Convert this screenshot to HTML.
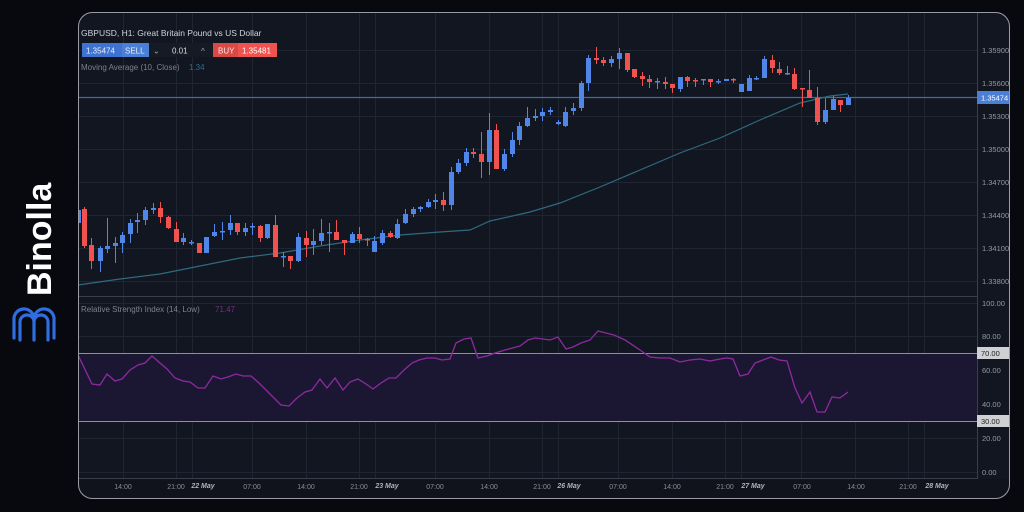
<!DOCTYPE html>
<html><head><meta charset="utf-8"><style>
body{margin:0;width:1024px;height:512px;background:#07090e;overflow:hidden;font-family:"Liberation Sans",sans-serif}
</style></head><body>
<svg width="1024" height="512" xmlns="http://www.w3.org/2000/svg" style="position:absolute;left:0;top:0" font-family="Liberation Sans, sans-serif">
<defs><clipPath id="cp"><rect x="78" y="12" width="932" height="487" rx="14"/></clipPath></defs>
<g clip-path="url(#cp)">
<rect x="78" y="12" width="932" height="487" fill="#121620"/>
<rect x="78" y="479" width="932" height="20" fill="#10131b"/>
<!-- grid -->
<g stroke="#1f2532" stroke-width="1">
<line x1="78" x2="977" y1="50.5" y2="50.5"/><line x1="78" x2="977" y1="83.5" y2="83.5"/><line x1="78" x2="977" y1="116.5" y2="116.5"/><line x1="78" x2="977" y1="149.5" y2="149.5"/><line x1="78" x2="977" y1="182.5" y2="182.5"/><line x1="78" x2="977" y1="215.5" y2="215.5"/><line x1="78" x2="977" y1="248.5" y2="248.5"/><line x1="78" x2="977" y1="281.5" y2="281.5"/>
<line x1="78" x2="977" y1="303.5" y2="303.5"/><line x1="78" x2="977" y1="336.5" y2="336.5"/><line x1="78" x2="977" y1="370.5" y2="370.5"/><line x1="78" x2="977" y1="404.5" y2="404.5"/><line x1="78" x2="977" y1="438.5" y2="438.5"/><line x1="78" x2="977" y1="472.5" y2="472.5"/>
<line y1="12" y2="479" x1="123.5" x2="123.5"/><line y1="12" y2="479" x1="176.5" x2="176.5"/><line y1="12" y2="479" x1="192.5" x2="192.5"/><line y1="12" y2="479" x1="252.5" x2="252.5"/><line y1="12" y2="479" x1="306.5" x2="306.5"/><line y1="12" y2="479" x1="359.5" x2="359.5"/><line y1="12" y2="479" x1="375.5" x2="375.5"/><line y1="12" y2="479" x1="435.5" x2="435.5"/><line y1="12" y2="479" x1="489.5" x2="489.5"/><line y1="12" y2="479" x1="542.5" x2="542.5"/><line y1="12" y2="479" x1="558.5" x2="558.5"/><line y1="12" y2="479" x1="618.5" x2="618.5"/><line y1="12" y2="479" x1="672.5" x2="672.5"/><line y1="12" y2="479" x1="725.5" x2="725.5"/><line y1="12" y2="479" x1="741.5" x2="741.5"/><line y1="12" y2="479" x1="801.5" x2="801.5"/><line y1="12" y2="479" x1="855.5" x2="855.5"/><line y1="12" y2="479" x1="908.5" x2="908.5"/><line y1="12" y2="479" x1="924.5" x2="924.5"/>
</g>
<!-- RSI band -->
<rect x="78" y="353" width="899" height="68" fill="#1b1733"/>
<line x1="78" x2="977" y1="353.5" y2="353.5" stroke="#8d8f9c"/>
<line x1="78" x2="977" y1="421.5" y2="421.5" stroke="#8d8f9c"/>
<line x1="78" x2="977" y1="296.5" y2="296.5" stroke="#3a3f4c"/>
<line x1="78" x2="977" y1="478.5" y2="478.5" stroke="#3a3f4c"/>
<line x1="977.5" x2="977.5" y1="12" y2="479" stroke="#3a3f4c"/>
<!-- current price line -->
<line x1="78" x2="977" y1="97.5" y2="97.5" stroke="#3d6aa8" stroke-width="1.3"/>
<!-- MA -->
<polyline fill="none" stroke="#2f6a80" stroke-width="1.2" points="78,285 120,279 160,274 200,266 240,258 280,253 320,246 360,240 400,235 440,232 470,230 490,221 530,212 560,203 600,187 640,170 680,153 720,138 760,120 800,103 830,96 848,94"/>
<g id="candles"></g>
<!-- RSI line -->
<polyline fill="none" stroke="#8e2aa0" stroke-width="1.3" points="78,355 92,384 100,385 107,374 115,381 122,379 130,370 138,365 145,363 152,356 160,363 167,369 175,378 183,381 190,382 198,388 205,388 213,376 221,379 228,377 236,374 243,376 251,376 259,383 266,390 274,398 281,405 289,406 297,398 305,392 312,390 320,379 327,388 335,378 343,390 350,382 358,379 366,384 373,389 381,383 389,378 396,378 404,370 412,363 419,360 427,358 435,358 442,360 450,359 456,343 464,339 471,338 478,358 487,356 495,353 505,350 520,346 528,340 535,338 543,339 550,340 558,337 566,349 573,347 581,343 590,340 598,331 606,333 614,335 625,340 640,350 650,357 660,358 670,358 680,362 690,360 700,359 710,361 720,359 727,358 733,359 740,376 748,374 755,363 763,360 771,357 779,360 787,361 795,388 802,403 810,392 817,412 825,412 832,397 840,398 848,392"/>
<!-- axis labels -->
<g font-size="7.5" fill="#9598a1">
<text x="982" y="53">1.35900</text><text x="982" y="86">1.35600</text><text x="982" y="119">1.35300</text><text x="982" y="152">1.35000</text><text x="982" y="185">1.34700</text><text x="982" y="218">1.34400</text><text x="982" y="251">1.34100</text><text x="982" y="284">1.33800</text>
<text x="982" y="306">100.00</text><text x="982" y="339">80.00</text><text x="982" y="373">60.00</text><text x="982" y="407">40.00</text><text x="982" y="441">20.00</text><text x="982" y="475">0.00</text>
</g>
<rect x="977" y="91" width="33" height="13" fill="#4a7fd6"/><text x="981" y="100.5" font-size="7.5" fill="#fff">1.35474</text>
<rect x="977" y="347" width="33" height="12" fill="#cfd0d4"/><text x="981" y="356" font-size="7.5" fill="#222">70.00</text>
<rect x="977" y="415" width="33" height="12" fill="#cfd0d4"/><text x="981" y="424" font-size="7.5" fill="#222">30.00</text>
<g font-size="7" fill="#8a8d96" text-anchor="middle">
<text x="123" y="489">14:00</text><text x="176" y="489">21:00</text><text x="203" y="488" font-weight="bold" font-style="italic" fill="#b0b3bb">22 May</text><text x="252" y="489">07:00</text><text x="306" y="489">14:00</text><text x="359" y="489">21:00</text><text x="387" y="488" font-weight="bold" font-style="italic" fill="#b0b3bb">23 May</text><text x="435" y="489">07:00</text><text x="489" y="489">14:00</text><text x="542" y="489">21:00</text><text x="569" y="488" font-weight="bold" font-style="italic" fill="#b0b3bb">26 May</text><text x="618" y="489">07:00</text><text x="672" y="489">14:00</text><text x="725" y="489">21:00</text><text x="753" y="488" font-weight="bold" font-style="italic" fill="#b0b3bb">27 May</text><text x="802" y="489">07:00</text><text x="856" y="489">14:00</text><text x="908" y="489">21:00</text><text x="937" y="488" font-weight="bold" font-style="italic" fill="#b0b3bb">28 May</text>
</g>
<!-- header -->
<text x="81" y="36" font-size="8.5" fill="#d1d4dc">GBPUSD, H1: Great Britain Pound vs US Dollar</text>
<rect x="82" y="43" width="40" height="14" fill="#3f73d2"/><rect x="122" y="43" width="27" height="14" fill="#4a7fd6"/>
<text x="86" y="53.5" font-size="8" fill="#e8eefc">1.35474</text><text x="125" y="53.5" font-size="8" fill="#e8eefc">SELL</text>
<rect x="149" y="43" width="64" height="14" fill="#161a24"/>
<text x="153" y="53.5" font-size="8" fill="#aaa">⌄</text><text x="172" y="53.5" font-size="8" fill="#ddd">0.01</text><text x="201" y="54" font-size="8" fill="#aaa">^</text>
<rect x="213" y="43" width="25" height="14" fill="#d94a47"/><rect x="238" y="43" width="39" height="14" fill="#f0524f"/>
<text x="218" y="53.5" font-size="8" fill="#fbe6e6">BUY</text><text x="242" y="53.5" font-size="8" fill="#fff">1.35481</text>
<text x="81" y="70" font-size="8" fill="#7d818c">Moving Average (10, Close)</text><text x="189" y="70" font-size="8" fill="#2c6e87">1.34</text>
<text x="81" y="312" font-size="8" fill="#7d818c">Relative Strength Index (14, Low)</text><text x="215" y="312" font-size="8" fill="#7d2a8c">71.47</text>
</g>
<rect x="78.5" y="12.5" width="931" height="486" rx="14" fill="none" stroke="#9a9ca4" stroke-width="1"/>
<!-- logo -->
<text transform="translate(51,296) rotate(-90)" font-size="34" font-weight="bold" fill="#ffffff">Binolla</text>
<path d="M20 340 V322 a7 7 0 0 1 14 0 V340 M34 322 a7 7 0 0 1 14 0 V340 M14 338 V320 a10 10 0 0 1 20 -2 a10 10 0 0 1 20 2 V338" fill="none" stroke="#2f6de0" stroke-width="3.2" stroke-linecap="round"/>
</svg>
<script>
var B="#4f86e8",R="#f0524f";
var c=[[78,210,223,207,226,B],[84,209,246,207,248,R],[91,245,261,238,269,R],[100,248,261,246,272,B],[107,246,249,218,253,B],[115,243,246,237,263,B],[122,235,243,232,253,B],[130,223,234,219,243,B],[137,220,222,213,233,B],[145,210,220,207,225,B],[153,208,210,203,214,B],[160,208,217,202,223,R],[168,217,228,216,229,R],[176,229,242,222,242,R],[183,238,242,233,245,B],[191,242,243,240,245,B],[199,243,253,243,253,R],[206,237,253,237,253,B],[214,232,236,224,237,B],[222,231,232,222,240,B],[230,223,230,215,235,B],[237,223,232,223,235,R],[245,228,232,223,236,B],[252,226,227,223,235,B],[260,226,238,225,242,R],[267,224,238,224,239,B],[275,225,257,215,257,R],[283,256,257,252,267,B],[290,256,261,256,269,R],[298,237,261,233,262,B],[306,238,245,231,257,R],[313,241,245,229,255,B],[321,233,241,219,245,B],[329,232,233,223,252,B],[336,232,240,220,240,R],[344,240,243,240,255,R],[352,234,243,232,243,B],[359,234,239,227,243,R],[367,239,240,238,246,R],[374,241,252,236,252,B],[382,233,243,230,245,B],[390,233,237,231,238,R],[397,224,238,219,239,B],[405,214,223,209,224,B],[413,209,214,207,217,B],[420,207,209,206,212,B],[428,202,207,199,208,B],[435,200,202,194,209,B],[443,200,205,192,211,R],[451,172,205,167,210,B],[458,163,172,159,174,B],[466,152,163,148,166,B],[473,152,154,148,158,R],[481,154,162,132,178,R],[489,130,162,113,175,B],[496,130,169,124,169,R],[504,154,169,149,171,B],[512,140,154,132,157,B],[519,126,140,122,145,B],[527,118,126,107,127,B],[535,116,118,109,121,B],[542,112,116,108,121,B],[550,110,112,107,115,B],[558,122,124,120,125,B],[565,112,126,107,127,B],[573,108,111,103,115,B],[581,83,108,81,111,B],[588,58,83,55,91,B],[596,58,60,47,64,R],[603,60,63,57,66,R],[611,59,63,56,67,B],[619,53,59,48,69,B],[627,53,70,53,72,R],[634,69,77,69,78,R],[642,76,79,72,86,R],[649,79,82,75,88,R],[657,81,82,78,89,B],[665,82,84,77,89,R],[672,84,88,84,93,R],[680,77,89,77,92,B],[687,77,81,76,87,R],[695,80,81,78,87,R],[703,79,80,79,85,B],[710,79,82,79,87,R],[718,81,82,79,84,B],[726,79,81,79,81,B],[733,79,80,78,83,R],[741,84,92,84,92,B],[749,78,91,75,91,B],[756,78,79,76,80,B],[764,59,78,56,78,B],[772,60,68,55,73,R],[779,69,73,62,75,R],[787,73,74,66,75,B],[794,74,89,68,90,R],[802,88,89,88,107,R],[809,90,98,70,98,R],[817,98,122,87,125,R],[825,110,122,98,124,B],[833,99,110,96,110,B],[840,100,105,100,112,R],[848,98,105,95,105,B]];
var s="";c.forEach(function(k){var x=k[0],col=k[5];s+='<line x1="'+(x+0.5)+'" x2="'+(x+0.5)+'" y1="'+k[3]+'" y2="'+k[4]+'" stroke="'+col+'" stroke-width="1"/>';var h=Math.max(1.5,k[2]-k[1]);s+='<rect x="'+(x-2)+'" y="'+k[1]+'" width="5" height="'+h+'" fill="'+col+'"/>';});
document.getElementById("candles").innerHTML=s;
</script>
</body></html>
